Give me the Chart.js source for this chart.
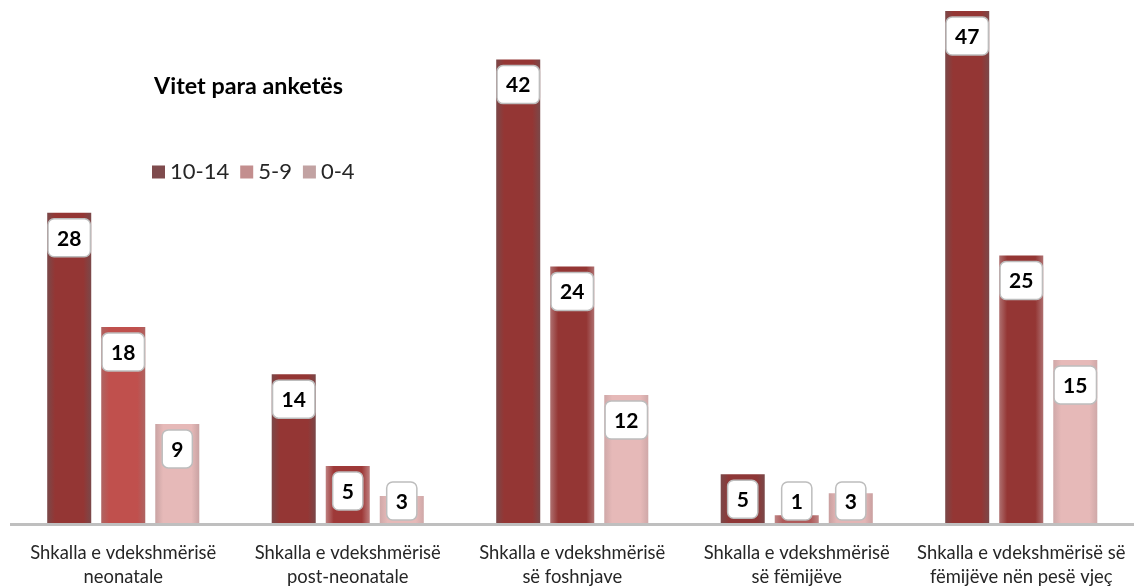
<!DOCTYPE html>
<html><head><meta charset="utf-8">
<script src="https://cdn.jsdelivr.net/npm/chart.js@4"></script>
<style>html,body{margin:0;padding:0;background:#fff;} #wrap{width:1135px;height:588px;position:relative;}</style>
</head><body><div id="wrap"><canvas id="c"></canvas></div>
<script>
// ---- data ----
const categories = [
  ["Shkalla e vdekshmërisë", "neonatale"],
  ["Shkalla e vdekshmërisë", "post-neonatale"],
  ["Shkalla e vdekshmërisë", "së foshnjave"],
  ["Shkalla e vdekshmërisë", "së fëmijëve"],
  ["Shkalla e vdekshmërisë së", "fëmijëve nën pesë vjeç"]
];
const seriesNames = ["10-14", "5-9", "0-4"];
const values1014 = [28.45, 13.7, 42.45, 4.55, 46.9];
const values59 = [18.0, 5.3, 23.55, 0.8, 24.55];
const values04 = [9.15, 2.55, 11.8, 2.8, 15.0];
const legendTitle = "Vitet para anketës";

// ---- styles ----
const centerColors = [
  ["#943634", "#943634", "#943634", "#8E3737", "#943634"],
  ["#C0504D", "#9E3938", "#943634", "#AE5A5A", "#943634"],
  ["#E6B9B8", "#E6B9B8", "#E6B9B8", "#E3B5B5", "#E6B9B8"]
];
const edgeColors = [
  ["#7A4849", "#7A4849", "#7A4849", "#7A4849", "#7A4849"],
  ["#AE6462", "#BE8080", "#AE7070", "#BE8585", "#AE7070"],
  ["#C9A3A3", "#CFA8A8", "#CFA8A8", "#C9A0A0", "#CFA8A8"]
];
const legendColors = ["#7F4B4D", "#C38E8E", "#C2A2A2"];
const FONT = "Lato, 'Open Sans', sans-serif";

const gradientPlugin = {
  id: 'barGradient',
  beforeDatasetsDraw(chart) {
    const ctx = chart.ctx;
    chart.data.datasets.forEach((ds, di) => {
      const meta = chart.getDatasetMeta(di);
      meta.data.forEach((el, i) => {
        const l = el.x - el.width / 2, r = el.x + el.width / 2;
        const g = ctx.createLinearGradient(l, 0, r, 0);
        const c = centerColors[di][i], e = edgeColors[di][i];
        g.addColorStop(0, e); g.addColorStop(0.18, c); g.addColorStop(0.82, c); g.addColorStop(1, e);
        el.options = Object.assign({}, el.options, {backgroundColor: g});
      });
    });
  }
};

const labelPlugin = {
  id: 'boxLabels',
  afterDatasetsDraw(chart) {
    const ctx = chart.ctx;
    const base = chart.chartArea.bottom;
    ctx.save();
    chart.data.datasets.forEach((ds, di) => {
      const meta = chart.getDatasetMeta(di);
      meta.data.forEach((el, i) => {
        const txt = String(Math.round(ds.data[i]));
        ctx.font = "bold 21px " + FONT;
        const tw = ctx.measureText(txt).width;
        const w = Math.max(tw + 18, 28), h = 38;
        const top = Math.min(el.y + 6, base - 4 - h);
        const left = el.x - w / 2;
        ctx.beginPath();
        ctx.roundRect(left, top, w, h, 6);
        ctx.fillStyle = '#FFFFFF';
        ctx.fill();
        ctx.lineWidth = 1.5;
        ctx.strokeStyle = '#BDBDBD';
        ctx.stroke();
        ctx.fillStyle = '#000000';
        ctx.textAlign = 'center';
        ctx.textBaseline = 'middle';
        ctx.fillText(txt, el.x, top + h / 2 + 1);
      });
    });
    ctx.restore();
  }
};

// legend with title, drawn inside the plot area at the upper left
const legendPlugin = {
  id: 'innerLegend',
  afterDraw(chart) {
    const ctx = chart.ctx;
    ctx.save();
    ctx.textBaseline = 'middle';
    ctx.textAlign = 'center';
    ctx.fillStyle = '#000';
    ctx.font = "bold 23.3px " + FONT;
    ctx.fillText(legendTitle, 248.5, 86);
    ctx.font = "22px " + FONT;
    ctx.textAlign = 'left';
    let x = 152;
    const yc = 172;
    seriesNames.forEach((n, i) => {
      ctx.fillStyle = legendColors[i];
      ctx.fillRect(x, yc - 6.5, 13, 13);
      x += 18;
      ctx.fillStyle = '#262626';
      ctx.fillText(n, x, yc);
      x += ctx.measureText(n).width + 11;
    });
    ctx.restore();
  }
};

new Chart(document.getElementById('c'), {
  type: 'bar',
  data: {
    labels: categories,
    datasets: [
      {label: seriesNames[0], data: values1014, backgroundColor: centerColors[0]},
      {label: seriesNames[1], data: values59, backgroundColor: centerColors[1]},
      {label: seriesNames[2], data: values04, backgroundColor: centerColors[2]}
    ]
  },
  options: {
    responsive: true,
    maintainAspectRatio: false,
    animation: false,
    events: [],
    devicePixelRatio: 1,
    categoryPercentage: 0.722,
    barPercentage: 0.815,
    layout: {padding: {left: 11, right: 1.5, top: 0, bottom: 0}},
    scales: {
      x: {
        grid: {display: false, drawTicks: false},
        border: {display: true, color: '#BFBFBF', width: 3, z: 1},
        ticks: {font: {family: FONT, size: 18.4, lineHeight: '24px'}, color: '#262626', padding: 17, maxRotation: 0, autoSkip: false},
        afterFit(scale) { scale.height = 64; scale.paddingLeft = 0; scale.paddingRight = 0; }
      },
      y: {display: false, min: 0, max: 47.9}
    },
    plugins: {
      tooltip: {enabled: false},
      legend: {display: false}
    }
  },
  plugins: [gradientPlugin, labelPlugin, legendPlugin]
});
</script>
</body></html>
